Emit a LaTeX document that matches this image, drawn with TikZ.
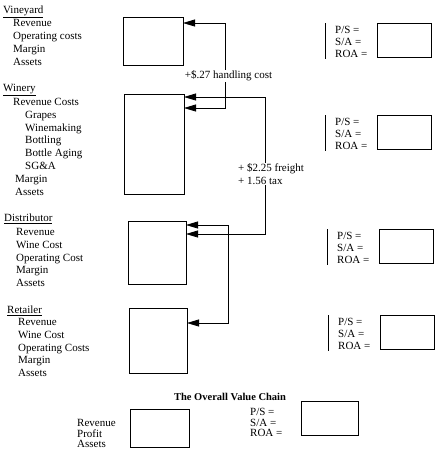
\documentclass[tikz,border=0pt]{standalone}
\usepackage{fontspec}
\setmainfont{Liberation Serif}
\usetikzlibrary{arrows.meta}

\begin{document}
\begin{tikzpicture}[x=1pt, y=-1pt, font=\fontsize{11}{12.5}\selectfont,
        item/.style={anchor=base west, inner sep=0pt},
        box/.style={draw, line width=1pt, anchor=north west, inner sep=0pt, outer sep=0pt},
        flow/.style={{Triangle[length=12pt,width=7pt]}-{Triangle[length=12pt,width=7pt]}, line width=0.8pt},
        tag/.style={fill=white, inner sep=1pt}]
        \useasboundingbox (0,0) rectangle (444,459);

        % stage boxes
        \node[box, minimum width=60pt, minimum height=48pt] (vineyard) at (123,17) {};
        \node[box, minimum width=60pt, minimum height=100pt] (winery) at (124,94) {};
        \node[box, minimum width=58pt, minimum height=63pt] (distributor) at (128,221) {};
        \node[box, minimum width=58pt, minimum height=65pt] (retailer) at (129,308) {};

        % left hand lists
        \node[item] (vinhead) at (3,13.5) {\underline{Vineyard}};
        \foreach \t [count=\i from 0] in {Revenue,Operating costs,Margin,Assets}
            \node[item] (vin\i) at (13,{26.5+13*\i}) {\t};

        \node[item] (winhead) at (3,91.5) {\underline{Winery}};
        \node[item] (win0) at (13,105.5) {Revenue Costs};
        \foreach \t [count=\i] in {Grapes,Winemaking,Bottling,Bottle Aging,SG\&A}
            \node[item] (win\i) at (25,{105.5+12.8*\i}) {\t};
        \node[item] (win6) at (15,182.5) {Margin};
        \node[item] (win7) at (15,195.5) {Assets};

        \node[item] (dishead) at (4,221.5) {\underline{Distributor}};
        \foreach \t [count=\i from 0] in {Revenue,Wine Cost,Operating Cost,Margin,Assets}
            \node[item] (dis\i) at (16,{235.5+12.8*\i}) {\t};

        \node[item] (rethead) at (7,313.5) {\underline{Retailer}};
        \foreach \t [count=\i from 0] in {Revenue,Wine Cost,Operating Costs,Margin,Assets}
            \node[item] (ret\i) at (18,{325.5+12.8*\i}) {\t};

        % flows between the stages
        \draw[flow] ([yshift=-6pt]vineyard.north east) -- ++(42,0) |- ([yshift=-14pt]winery.north east);
        \draw[flow] ([yshift=-3pt]winery.north east) -- ++(81,0) |- ([yshift=-13pt]distributor.north east);
        \draw[flow] ([yshift=-4pt]distributor.north east) -- ++(42,0) |- ([yshift=-15pt]retailer.north east);
        \node[tag] (handling) at (228.5,76) {+\$.27 handling cost};
        \node[tag, anchor=west, align=left] (freight) at (237,174) {+ \$2.25 freight\\+ 1.56 tax};

        % ratios
        \foreach \y/\dx [count=\i] in {23/0,115/0,229/2,315/3} {
            \draw[line width=1pt] (325+\dx,\y) -- (325+\dx,\y+36);
            \node[item] (ps\i) at (335+\dx,\y+10) {P/S =};
            \node[item] (sa\i) at (335+\dx,\y+22) {S/A =};
            \node[item] (roa\i) at (335+\dx,\y+34.5) {ROA =};
            \node[box, minimum width=54pt, minimum height=34pt] (ratio\i) at (377+\dx,\y) {};
        }

        % overall chain
        \node[font=\fontsize{10.5}{12}\selectfont\bfseries] (title) at (230,397) {The Overall Value Chain};
        \node[item] (sum0) at (77,426.5) {Revenue};
        \node[item] (sum1) at (77,437) {Profit};
        \node[item] (sum2) at (77,447.5) {Assets};
        \node[box, minimum width=59pt, minimum height=38pt] (chainbox) at (130,409) {};
        \node[item] (ps0) at (250,415.5) {P/S =};
        \node[item] (sa0) at (250,426) {S/A =};
        \node[item] (roa0) at (250,436.5) {ROA =};
        \node[box, minimum width=57pt, minimum height=34pt] (chainratio) at (301,401) {};
\end{tikzpicture}
\end{document}
